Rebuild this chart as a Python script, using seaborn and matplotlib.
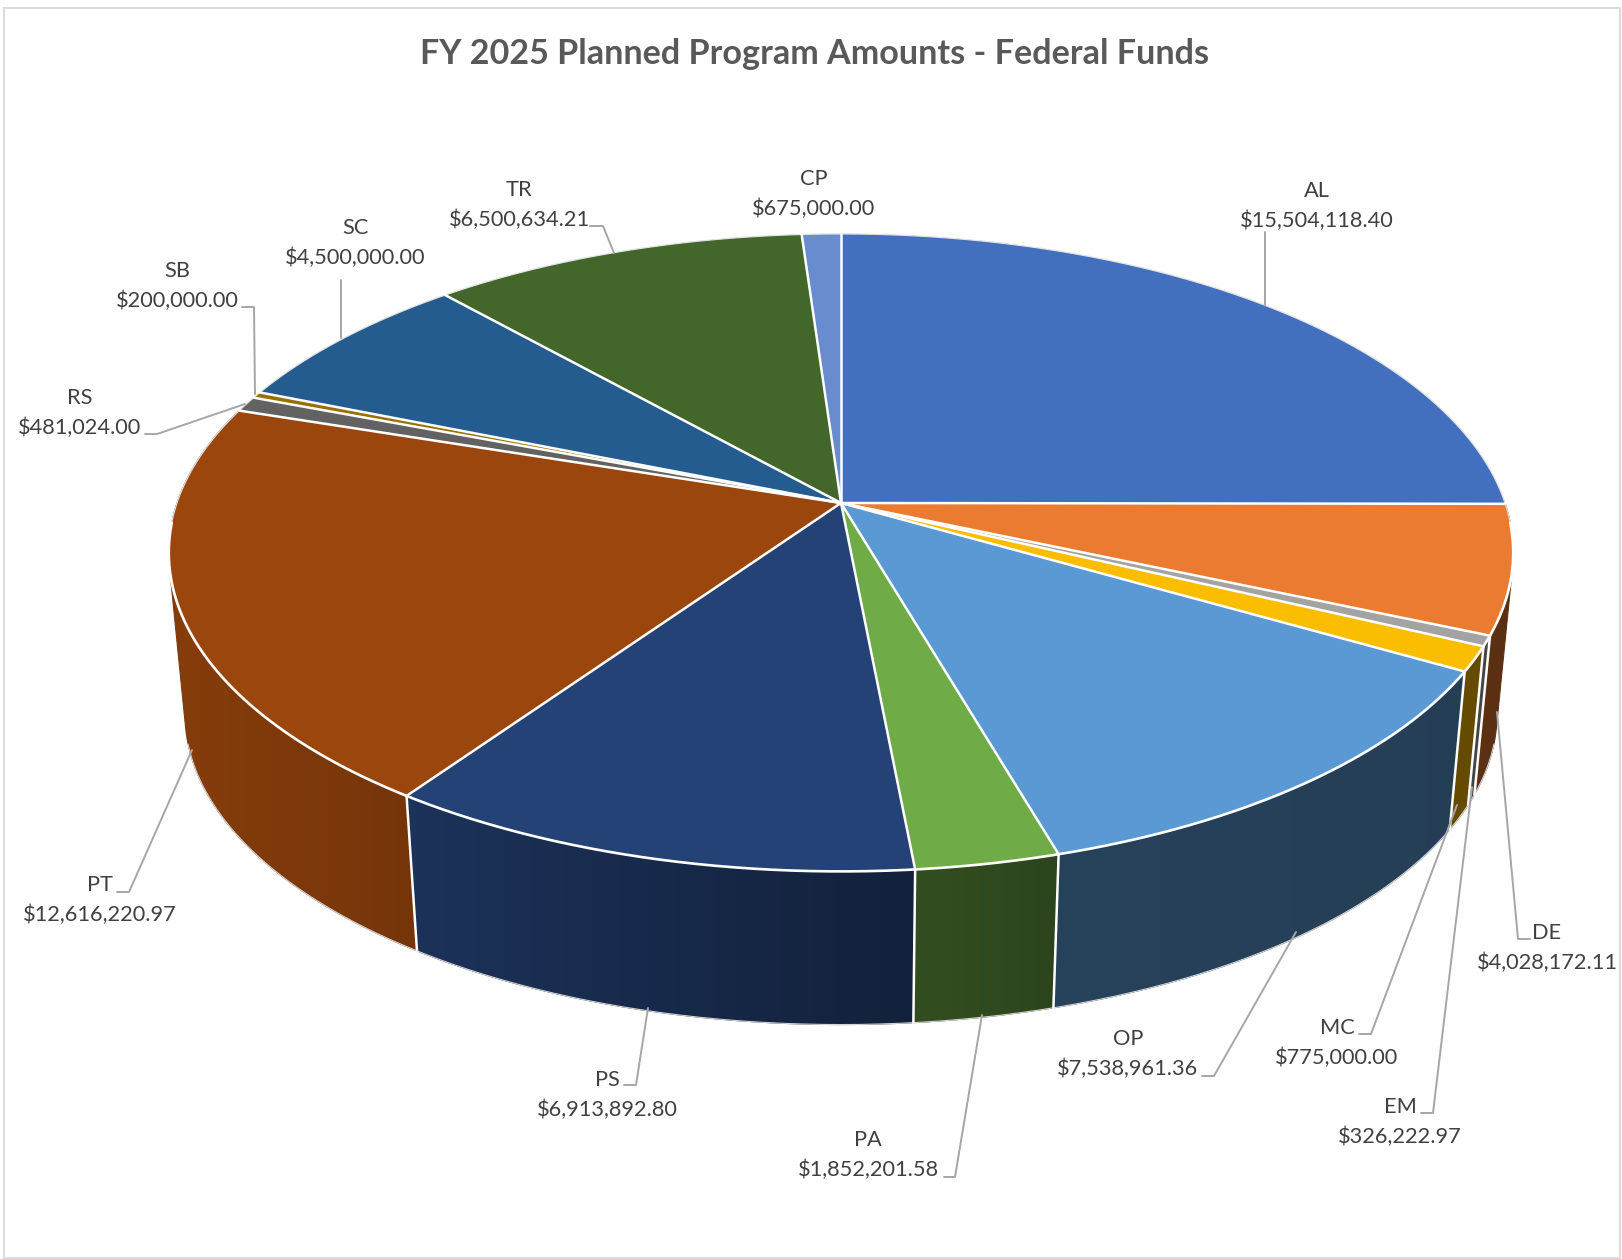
import numpy as np
import matplotlib
matplotlib.use("Agg")
import matplotlib.pyplot as plt
from matplotlib.patches import Polygon
import seaborn as sns

# Program codes, clockwise from 12 o'clock
codes = ["AL", "DE", "EM", "MC", "OP", "PA", "PS", "PT", "RS", "SB", "SC", "TR", "CP"]
amounts = [15504118.40, 4028172.11, 326222.97, 775000.00, 7538961.36, 1852201.58,
           6913892.80, 12616220.97, 481024.00, 200000.00, 4500000.00, 6500634.21, 675000.00]
hex_colors = ["#4270BF", "#EA7B30", "#A3A3A3", "#FBBD00", "#5A99D3", "#6FAB46", "#254276",
              "#9A460D", "#626262", "#977100", "#255C8F", "#43672A", "#688CCE"]

# side wall shading per slice (left edge, right edge), only the ones you can see
side_shade = {"DE": (0.40, 0.38), "EM": (0.42, 0.42), "MC": (0.40, 0.40), "OP": (0.43, 0.41),
              "PA": (0.46, 0.40), "PS": (0.76, 0.50), "PT": (0.87, 0.76)}

# label centres and leader lines, in pixels
label_pos = {"AL": (1317, 205), "DE": (1547, 947), "EM": (1400, 1121), "MC": (1337, 1042),
             "OP": (1128, 1053), "PA": (868, 1154), "PS": (607, 1094), "PT": (100, 899),
             "RS": (80, 412), "SB": (177, 285), "SC": (355, 242), "TR": (519, 204), "CP": (814, 193)}
leaders = {"AL": [(1265, 305), (1265, 232)],
           "DE": [(1530, 939), (1518, 939), (1497, 712)],
           "EM": [(1421, 1113), (1433, 1113), (1472, 787)],
           "MC": [(1359, 1034), (1371, 1034), (1457, 805)],
           "OP": [(1202, 1076), (1214, 1076), (1296, 932)],
           "PA": [(944, 1177), (955, 1177), (982, 1015)],
           "PS": [(624, 1085), (636, 1085), (648, 1008)],
           "PT": [(117, 892), (129, 892), (192, 750)],
           "RS": [(145, 434), (157, 434), (245, 404)],
           "SB": [(242, 307), (254, 307), (255, 394)],
           "SC": [(341, 280), (341, 338)],
           "TR": [(590, 226), (603, 226), (614, 253)]}

# perspective of the disc
cx, cy = 841, 503
ax_a, ax_b, persp = 664, 311, 0.1558
drop, shrink = 162, 0.976


def rim(theta, lower=False):
    w = 1 + persp * np.cos(theta)
    u = ax_a * np.sin(theta) / w
    v = ax_b * np.cos(theta) / w
    if lower:
        return cx + shrink * u, cy + drop - shrink * v
    return cx + u, cy - v


def hull(points):
    # monotone chain, the side wall is the hull of its two arcs
    pts = sorted(set(map(tuple, points)))

    def half(seq):
        out = []
        for p in seq:
            while len(out) > 1 and ((out[-1][0] - out[-2][0]) * (p[1] - out[-2][1])
                                    - (out[-1][1] - out[-2][1]) * (p[0] - out[-2][0])) <= 0:
                out.pop()
            out.append(p)
        return out[:-1]

    return half(pts) + half(pts[::-1])


sns.set_theme(style="white")
plt.rcParams["font.family"] = ["Lato", "DejaVu Sans"]
colors = sns.color_palette(hex_colors)

fig, ax = plt.subplots(figsize=(16.22, 12.59), dpi=100)
ax.set_position([0, 0, 1, 1])
ax.axis("off")

# chart frame
ax.plot([4, 1620, 1620, 4, 4], [8, 8, 1258, 1258, 8], color="#D9D9D9", lw=1.3, zorder=1)

edges = np.concatenate([[0], np.cumsum(amounts)]) / np.sum(amounts) * 2 * np.pi

# side walls, back to front, each with a left to right gradient
visible = [i for i, code in enumerate(codes) if code in side_shade]
visible.sort(key=lambda i: -np.cos((edges[i] + edges[i + 1]) / 2))
for i in visible:
    t = np.linspace(edges[i], edges[i + 1], 80)
    xt, yt = rim(t)
    xb, yb = rim(t, lower=True)
    poly = np.array(hull(np.c_[np.r_[xt, xb], np.r_[yt, yb]]))
    left_f, right_f = side_shade[codes[i]]
    shades = np.linspace(left_f, right_f, 64)
    grad = np.clip(np.outer(shades, colors[i]), 0, 1)[None, :, :]
    im = ax.imshow(grad, extent=(poly[:, 0].min(), poly[:, 0].max(), poly[:, 1].max(), poly[:, 1].min()),
                   aspect="auto", interpolation="bilinear", zorder=2)
    im.set_clip_path(Polygon(poly, transform=ax.transData))
    mid = np.array(colors[i]) * (left_f + right_f) / 2
    ax.add_patch(Polygon(poly, facecolor="none", edgecolor=tuple(mid), lw=0.8, zorder=2))

ax.set_xlim(0, 1622)
ax.set_ylim(1259, 0)

# faint outline under the disc, running through the bottom of the pie
tt = np.linspace(np.pi / 2, 3 * np.pi / 2, 361)
keep = np.cos(tt) < -0.25
xb, yb = rim(tt[keep], lower=True)
ax.plot(xb, yb, color="#D4D4D4", lw=0.8, zorder=3)

# white walls between the slices
for e in edges:
    if np.cos(e) < -0.1:
        xt, yt = rim(e)
        xb2, yb2 = rim(e, lower=True)
        ax.plot([xt, xb2], [yt, yb2], color="white", lw=1.8, zorder=3)

# top faces: thin rim at the back, heavier white at the front, white spokes
for i, code in enumerate(codes):
    t = np.linspace(edges[i], edges[i + 1], max(3, int((edges[i + 1] - edges[i]) * 120)))
    xs, ys = rim(t)
    ax.fill(np.r_[cx, xs], np.r_[cy, ys], facecolor=colors[i], edgecolor="none", zorder=4)

back = np.linspace(-0.62 * np.pi, 0.62 * np.pi, 500)
ax.plot(*rim(back), color="#E2E2E2", lw=0.9, zorder=4.2)
frontrim = np.linspace(0.52 * np.pi, 1.48 * np.pi, 500)
ax.plot(*rim(frontrim), color="white", lw=1.9, zorder=4.3)
for e in edges[:-1]:
    xe, ye = rim(e)
    ax.plot([cx, xe], [cy, ye], color="white", lw=1.8, solid_capstyle="round", zorder=4.4)

# labels and leaders
for code, amount in zip(codes, amounts):
    px, py = label_pos[code]
    ax.text(px, py + 1, f"{code}\n${amount:,.2f}", ha="center", va="center", fontsize=15.65,
            color="#404040", linespacing=1.56, zorder=6)
    if code in leaders:
        lx, ly = zip(*leaders[code])
        ax.plot(lx, ly, color="#A6A6A6", lw=1.4, zorder=5)

ax.text(815, 54, "FY 2025 Planned Program Amounts - Federal Funds", ha="center", va="center",
        fontsize=24.6, fontweight="bold", color="#595959", zorder=6)

fig.savefig("out.png", dpi=100, facecolor="white")
